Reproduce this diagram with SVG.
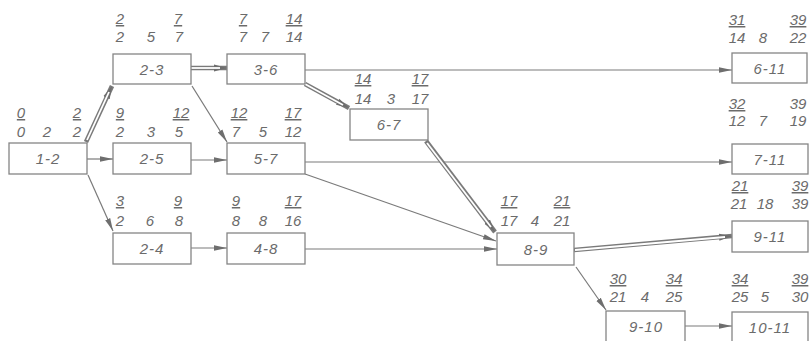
<svg xmlns="http://www.w3.org/2000/svg" width="811" height="341" viewBox="0 0 811 341">
<style>
text{font-family:"Liberation Sans",Arial,sans-serif;font-style:italic;font-size:15px;fill:#6b6b6b;text-anchor:middle}
.u{text-decoration:underline}
.box{fill:#fff;stroke:#858585;stroke-width:1.3}
.lbl{letter-spacing:1px}
.s{fill:none;stroke:#7a7a7a;stroke-width:1.2}
.d{fill:none;stroke:#7a7a7a;stroke-width:4.6}
.dw{fill:none;stroke:#fff;stroke-width:1.8}
</style>
<defs>
<marker id="ah" markerUnits="userSpaceOnUse" markerWidth="14" markerHeight="8" refX="13" refY="4" orient="auto">
<path d="M0,1.3 L13,4 L0,6.7 z" fill="#6e6e6e"/>
</marker>
<marker id="ahd" markerUnits="userSpaceOnUse" markerWidth="14" markerHeight="10" refX="13" refY="5" orient="auto">
<path d="M0,1.5 L13,5 L0,8.5 z" fill="#6e6e6e"/>
</marker>
</defs>
<rect width="811" height="341" fill="#fff"/>
<g id="connectors">
<path class="s" d="M87,159 L113,159" marker-end="url(#ah)"/>
<path class="s" d="M88,175 L113,231" marker-end="url(#ah)"/>
<path class="s" d="M192,86 L227,142" marker-end="url(#ah)"/>
<path class="s" d="M191,160 L227,160" marker-end="url(#ah)"/>
<path class="s" d="M191,248 L227,248" marker-end="url(#ah)"/>
<path class="s" d="M305,70 L732,70" marker-end="url(#ah)"/>
<path class="s" d="M305,162 L732,162" marker-end="url(#ah)"/>
<path class="s" d="M305,174 L496,241" marker-end="url(#ah)"/>
<path class="s" d="M305,249 L497,249" marker-end="url(#ah)"/>
<path class="s" d="M576,267 L606,310" marker-end="url(#ah)"/>
<path class="s" d="M685,326 L732,326" marker-end="url(#ah)"/>
<path class="d" d="M86,142 L112,86" marker-end="url(#ahd)"/>
<path class="dw" d="M87,140 L109,92"/>
<path class="d" d="M191,68 L227,68" marker-end="url(#ahd)"/>
<path class="dw" d="M191,68 L220,68"/>
<path class="d" d="M305,84 L349,108" marker-end="url(#ahd)"/>
<path class="dw" d="M305,84 L343,105"/>
<path class="d" d="M426,141 L495,232" marker-end="url(#ahd)"/>
<path class="dw" d="M427,143 L491,227"/>
<path class="d" d="M574,250 L732,236" marker-end="url(#ahd)"/>
<path class="dw" d="M575,250 L725,237"/>
</g>
<g id="n1-2"><rect class="box" x="9" y="143" width="78" height="31"/><text class="lbl" x="48" y="164">1-2</text>
<text class="u" x="21" y="118">0</text><text class="u" x="77" y="118">2</text>
<text x="21" y="137">0</text><text x="47" y="137">2</text><text x="77" y="137">2</text></g>
<g id="n2-3"><rect class="box" x="113" y="54" width="78" height="30"/><text class="lbl" x="152" y="75">2-3</text>
<text class="u" x="120" y="24">2</text><text class="u" x="178" y="24">7</text>
<text x="120" y="42">2</text><text x="151" y="42">5</text><text x="179" y="42">7</text></g>
<g id="n3-6"><rect class="box" x="227" y="54" width="78" height="30"/><text class="lbl" x="266" y="75">3-6</text>
<text class="u" x="243" y="24">7</text><text class="u" x="294" y="24">14</text>
<text x="243" y="42">7</text><text x="265" y="42">7</text><text x="294" y="42">14</text></g>
<g id="n2-5"><rect class="box" x="113" y="143" width="78" height="31"/><text class="lbl" x="152" y="164">2-5</text>
<text class="u" x="120" y="118">9</text><text class="u" x="181" y="118">12</text>
<text x="120" y="137">2</text><text x="151" y="137">3</text><text x="179" y="137">5</text></g>
<g id="n5-7"><rect class="box" x="227" y="143" width="78" height="31"/><text class="lbl" x="266" y="164">5-7</text>
<text class="u" x="239" y="118">12</text><text class="u" x="293" y="118">17</text>
<text x="236" y="137">7</text><text x="263" y="137">5</text><text x="293" y="137">12</text></g>
<g id="n2-4"><rect class="box" x="113" y="233" width="78" height="31"/><text class="lbl" x="152" y="254">2-4</text>
<text class="u" x="120" y="206">3</text><text class="u" x="178" y="206">9</text>
<text x="120" y="226">2</text><text x="150" y="226">6</text><text x="179" y="226">8</text></g>
<g id="n4-8"><rect class="box" x="227" y="233" width="78" height="31"/><text class="lbl" x="266" y="254">4-8</text>
<text class="u" x="236" y="206">9</text><text class="u" x="293" y="206">17</text>
<text x="236" y="226">8</text><text x="263" y="226">8</text><text x="293" y="226">16</text></g>
<g id="n6-7"><rect class="box" x="350" y="109" width="78" height="31"/><text class="lbl" x="389" y="130">6-7</text>
<text class="u" x="363" y="84">14</text><text class="u" x="420" y="84">17</text>
<text x="363" y="104">14</text><text x="391" y="104">3</text><text x="420" y="104">17</text></g>
<g id="n8-9"><rect class="box" x="497" y="233" width="77" height="32"/><text class="lbl" x="536" y="255">8-9</text>
<text class="u" x="509" y="206">17</text><text class="u" x="562" y="206">21</text>
<text x="509" y="226">17</text><text x="535" y="226">4</text><text x="562" y="226">21</text></g>
<g id="n6-11"><rect class="box" x="732" y="53" width="75" height="30"/><text class="lbl" x="770" y="74">6-11</text>
<text class="u" x="737" y="25">31</text><text class="u" x="798" y="25">39</text>
<text x="737" y="43">14</text><text x="763" y="43">8</text><text x="798" y="43">22</text></g>
<g id="n7-11"><rect class="box" x="732" y="144" width="76" height="30"/><text class="lbl" x="770" y="165">7-11</text>
<text class="u" x="737" y="109">32</text><text x="798" y="109">39</text>
<text x="737" y="126">12</text><text x="763" y="126">7</text><text x="798" y="126">19</text></g>
<g id="n9-11"><rect class="box" x="732" y="221" width="76" height="31"/><text class="lbl" x="770" y="242">9-11</text>
<text class="u" x="740" y="191">21</text><text class="u" x="800" y="191">39</text>
<text x="739" y="209">21</text><text x="765" y="209">18</text><text x="800" y="209">39</text></g>
<g id="n9-10"><rect class="box" x="606" y="311" width="79" height="32"/><text class="lbl" x="646" y="332">9-10</text>
<text class="u" x="618" y="284">30</text><text class="u" x="674" y="284">34</text>
<text x="618" y="302">21</text><text x="645" y="302">4</text><text x="674" y="302">25</text></g>
<g id="n10-11"><rect class="box" x="732" y="312" width="76" height="31"/><text class="lbl" x="770" y="333">10-11</text>
<text class="u" x="740" y="284">34</text><text class="u" x="800" y="284">39</text>
<text x="740" y="302">25</text><text x="765" y="302">5</text><text x="800" y="302">30</text></g>
</svg>
